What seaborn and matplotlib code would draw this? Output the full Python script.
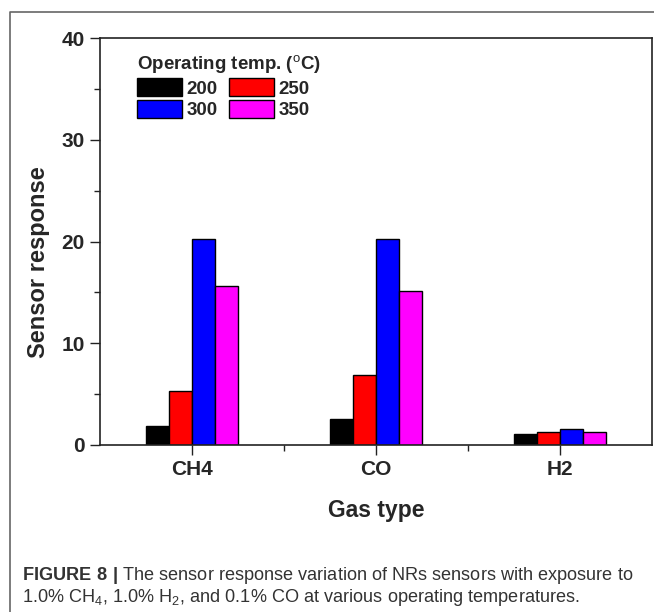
import matplotlib
matplotlib.use("Agg")
import matplotlib.pyplot as plt
from matplotlib.lines import Line2D
from matplotlib.ticker import MultipleLocator, FixedLocator
import seaborn as sns
import pandas as pd

# Sensor response per gas at each operating temperature
gases = ["CH4", "CO", "H2"]
temps = ["200", "250", "300", "350"]
resp_200 = [1.9, 2.6, 1.1]
resp_250 = [5.35, 6.9, 1.3]
resp_300 = [20.2, 20.2, 1.55]
resp_350 = [15.6, 15.1, 1.3]
bar_colors = ["#000000", "#ff0000", "#0000ff", "#ff00ff"]

rows = []
for t, vals in zip(temps, [resp_200, resp_250, resp_300, resp_350]):
    for g, v in zip(gases, vals):
        rows.append({"Gas": g, "Temp": t, "Response": v})
df = pd.DataFrame(rows)

sns.set_theme(style="white")
plt.rcParams["font.family"] = ["Liberation Sans", "DejaVu Sans"]
plt.rcParams["mathtext.fontset"] = "custom"
plt.rcParams["mathtext.rm"] = "Liberation Sans"
plt.rcParams["mathtext.bf"] = "Liberation Sans:bold"

fig = plt.figure(figsize=(6.54, 6.12), dpi=100)
ax = fig.add_axes([100 / 654, 1 - 445 / 612, 552 / 654, 407 / 612])

sns.barplot(data=df, x="Gas", y="Response", hue="Temp", order=gases,
            hue_order=temps, palette=bar_colors, width=0.5, ax=ax,
            edgecolor="black", linewidth=1.0, saturation=1.0, errorbar=None)

ax.set_xlim(-0.5, 2.5)
ax.set_ylim(0, 40)
for side in ["left", "bottom", "top", "right"]:
    ax.spines[side].set_visible(True)
    ax.spines[side].set_color("#222222")
    ax.spines[side].set_linewidth(1.2)

ax.yaxis.set_major_locator(MultipleLocator(10))
ax.yaxis.set_minor_locator(MultipleLocator(5))
ax.xaxis.set_minor_locator(FixedLocator([0.5, 1.5]))
ax.tick_params(axis="both", which="major", direction="out", length=7,
               width=1.0, color="#222222", left=True, bottom=True,
               labelsize=15, pad=4)
ax.tick_params(axis="both", which="minor", direction="out", length=4,
               width=1.0, color="#222222", left=True, bottom=True)
for lbl in ax.get_xticklabels() + ax.get_yticklabels():
    lbl.set_fontweight("bold")

ax.set_xlabel("Gas type", fontsize=16.5, fontweight="bold", labelpad=14)
ax.set_ylabel("Sensor response", fontsize=17, fontweight="bold")
ax.yaxis.set_label_coords(-0.09, 0.45)

# Row-wise legend order: 200, 250 / 300, 350
handles, labels = ax.get_legend_handles_labels()
order = [0, 2, 1, 3]
leg = ax.legend([handles[i] for i in order], [labels[i] for i in order],
                title="Operating temp. ($^{\\rm o}$C)",
                ncol=2, loc="upper left", bbox_to_anchor=(0.05, 0.985),
                frameon=False, fontsize=13.5, title_fontsize=13.5,
                handlelength=2.4, handleheight=1.1, handletextpad=0.25,
                columnspacing=0.6, labelspacing=0.12, borderpad=0.0,
                alignment="left")
leg.get_title().set_fontweight("bold")
for t in leg.get_texts():
    t.set_fontweight("bold")

# Caption panel border
fig.add_artist(Line2D([10 / 654, 10 / 654, 1.0], [0.0, 1 - 12 / 612, 1 - 12 / 612],
                      transform=fig.transFigure, color="#666666", linewidth=1.2))

fig.text(22 / 654, 1 - 575 / 612,
         r"$\mathbf{FIGURE\ 8\ |}$ The sensor response variation of NRs sensors with exposure to",
         fontsize=13.1, color="#333333", va="center", ha="left")
fig.text(22 / 654, 1 - 598 / 612,
         r"1.0% CH$_4$, 1.0% H$_2$, and 0.1% CO at various operating temperatures.",
         fontsize=13.1, color="#333333", va="center", ha="left")

fig.savefig("out.png", dpi=100)
